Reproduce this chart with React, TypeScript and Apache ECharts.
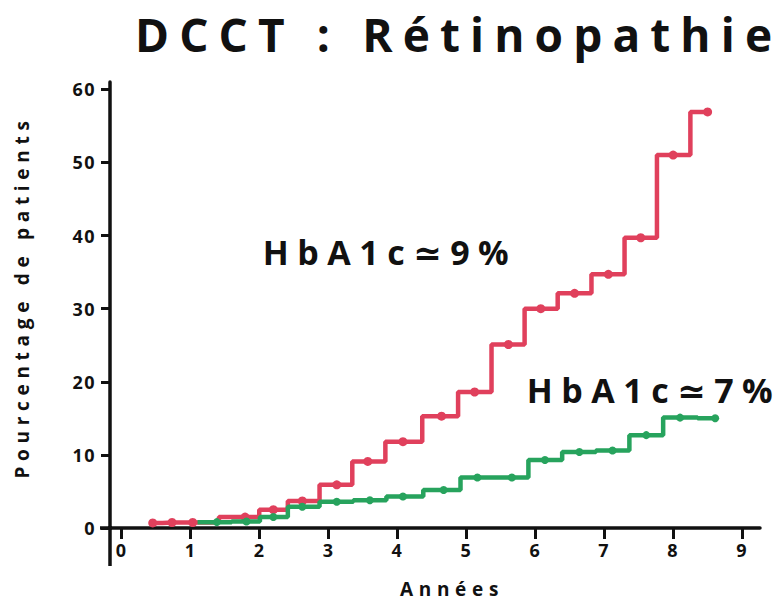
import React, { useEffect, useRef } from "react";
import * as echarts from "echarts";

const titleText = "DCCT : Rétinopathie";
const yAxisTitle = "Pourcentage de patients";
const xAxisTitle = "Années";
const label9 = "HbA1c≃9%";
const label7 = "HbA1c≃7%";

const xTicks = [0, 1, 2, 3, 4, 5, 6, 7, 8, 9];
const yTicks = [0, 10, 20, 30, 40, 50, 60];

// HbA1c ≃ 9 % (red)
const redYears = [0.45, 0.73, 1.03, 1.79, 2.2, 2.62, 3.12, 3.57, 4.08, 4.64, 5.12, 5.61, 6.08, 6.57, 7.06, 7.53, 8.0, 8.5];
const redPct = [0.7, 0.75, 0.75, 1.5, 2.5, 3.7, 5.9, 9.1, 11.8, 15.3, 18.6, 25.1, 30.0, 32.1, 34.7, 39.7, 51.0, 56.9];

// HbA1c ≃ 7 % (green)
const greenStartYear = 1.1;
const greenStartPct = 0.8;
const greenYears = [1.38, 1.81, 2.2, 2.62, 3.12, 3.6, 4.08, 4.67, 5.16, 5.66, 6.14, 6.64, 7.12, 7.61, 8.1, 8.61];
const greenPct = [0.8, 0.9, 1.5, 2.9, 3.6, 3.8, 4.3, 5.2, 6.9, 6.9, 9.3, 10.4, 10.6, 12.7, 15.1, 15.0];

const RED = "#e0405c";
const GREEN = "#27a35d";
const FONT = "'Open Sans', 'DejaVu Sans', sans-serif";

export default function App() {
  const ref = useRef<HTMLDivElement>(null);

  useEffect(() => {
    if (!ref.current) return;
    const chart = echarts.init(ref.current, undefined, { renderer: "svg" });

    const redData = redYears.map((x, i) => [x, redPct[i]]);
    const greenData: any[] = [
      { value: [greenStartYear, greenStartPct], symbol: "none" },
      ...greenYears.map((x, i) => [x, greenPct[i]]),
    ];

    chart.setOption({
      animation: false,
      backgroundColor: "#ffffff",
      textStyle: { fontFamily: FONT },
      title: {
        text: titleText,
        left: 130,
        top: 6,
        textStyle: { fontSize: 46, fontWeight: "bold", color: "#111", fontFamily: FONT },
      },
      grid: { left: 110, right: 22, top: 82, bottom: 74, containLabel: false },
      xAxis: {
        type: "value",
        min: -0.17,
        max: 9.26,
        splitLine: { show: false },
        axisLine: { show: true, onZero: false, lineStyle: { color: "#111", width: 3.5 } },
        axisTick: { show: true, customValues: xTicks, length: 11, lineStyle: { color: "#111", width: 3 } },
        axisLabel: {
          customValues: xTicks,
          margin: 13,
          fontSize: 18,
          fontWeight: "bold",
          color: "#111",
          fontFamily: FONT,
        },
      },
      yAxis: {
        type: "value",
        min: 0,
        max: 61,
        splitLine: { show: false },
        axisLine: { show: true, onZero: false, lineStyle: { color: "#111", width: 3.5 } },
        axisTick: { show: true, customValues: yTicks, length: 9, lineStyle: { color: "#111", width: 3 } },
        axisLabel: {
          customValues: yTicks,
          margin: 14,
          fontSize: 18,
          fontWeight: "bold",
          color: "#111",
          fontFamily: FONT,
        },
      },
      series: [
        {
          name: label9,
          type: "line",
          step: "middle",
          data: redData,
          symbol: "circle",
          symbolSize: 9,
          showSymbol: true,
          showAllSymbol: true,
          lineStyle: { color: RED, width: 4.5 },
          itemStyle: { color: RED },
          z: 2,
        },
        {
          name: label7,
          type: "line",
          step: "middle",
          data: greenData,
          symbol: "circle",
          symbolSize: 8,
          showSymbol: true,
          showAllSymbol: true,
          lineStyle: { color: GREEN, width: 4.5 },
          itemStyle: { color: GREEN },
          z: 3,
        },
      ],
      graphic: [
        {
          type: "line",
          shape: { x1: 110, y1: 526, x2: 110, y2: 566 },
          style: { stroke: "#111", lineWidth: 3.5 },
        },
        {
          type: "line",
          shape: { x1: 100, y1: 528, x2: 112, y2: 528 },
          style: { stroke: "#111", lineWidth: 3.5 },
        },
        {
          type: "text",
          x: 22,
          y: 297,
          rotation: Math.PI / 2,
          style: {
            text: yAxisTitle,
            fill: "#111",
            font: `bold 19px ${FONT}`,
            textAlign: "center",
            textVerticalAlign: "middle",
          },
        },
        {
          type: "text",
          x: 452,
          y: 589,
          style: {
            text: xAxisTitle,
            fill: "#111",
            font: `bold 19px ${FONT}`,
            textAlign: "center",
            textVerticalAlign: "middle",
          },
        },
        {
          type: "text",
          x: 390,
          y: 252,
          style: {
            text: label9,
            fill: "#111",
            font: `bold 34px ${FONT}`,
            textAlign: "center",
            textVerticalAlign: "middle",
          },
        },
        {
          type: "text",
          x: 654,
          y: 390,
          style: {
            text: label7,
            fill: "#111",
            font: `bold 34px ${FONT}`,
            textAlign: "center",
            textVerticalAlign: "middle",
          },
        },
      ],
    });

    return () => chart.dispose();
  }, []);

  return (
    <>
      <style>{`
        body { margin: 0; }
        #chart text { letter-spacing: 0.08em; }
        #chart text[style*="46px"] { letter-spacing: 0.22em; }
        #chart text[style*="34px"] { letter-spacing: 0.25em; }
        #chart text[style*="19px"] { letter-spacing: 0.3em; }
      `}</style>
      <div id="chart" ref={ref} style={{ width: 782, height: 602 }} />
    </>
  );
}
